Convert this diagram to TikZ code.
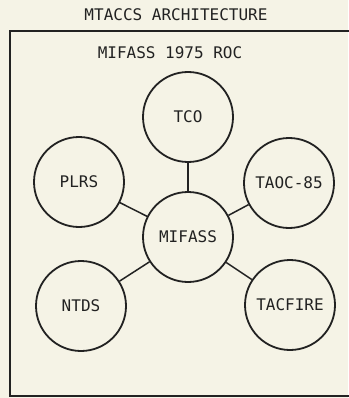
\documentclass[tikz,border=0pt]{standalone}
\usepackage{fontspec}
\newfontfamily\plotfont{DejaVu Sans Mono}
\definecolor{paper}{HTML}{F5F3E6}
\definecolor{ink}{HTML}{222222}
\begin{document}
\begin{tikzpicture}[x=1pt,y=-1pt,
  lbl/.style={font=\plotfont\fontsize{16}{16}\selectfont, text=ink, inner sep=0pt},
  sys/.style={circle, draw=ink, line width=1.8pt, minimum size=90pt, inner sep=0pt,
              font=\plotfont\fontsize{16}{16}\selectfont, text=ink},
  link/.style={draw=ink, line width=1.5pt}]
\fill[paper] (0,0) rectangle (348,398);
\useasboundingbox (0,0) rectangle (348,398);
\node[lbl] (title) at (176,15) {MTACCS ARCHITECTURE};
\draw[ink, line width=2pt] (350,31) -- (10,31) -- (10,396) -- (350,396);
\node[lbl] (sub) at (170,53) {MIFASS 1975 ROC};
\node[sys] (tco) at (188,117) {TCO};
\node[sys] (plrs) at (79,182) {PLRS};
\node[sys] (taoc) at (289,183) {TAOC-85};
\node[sys] (mif) at (188,237) {MIFASS};
\node[sys] (ntds) at (81,306) {NTDS};
\node[sys] (tac) at (290,305) {TACFIRE};
\path[link] (tco) -- (mif);
\path[link] (plrs) -- (mif);
\path[link] (taoc) -- (mif);
\path[link] (ntds) -- (mif);
\path[link] (tac) -- (mif);
\end{tikzpicture}
\end{document}
